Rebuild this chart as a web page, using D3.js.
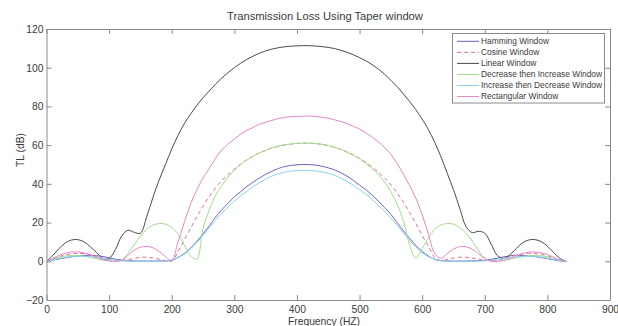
<!DOCTYPE html>
<html>
<head>
<meta charset="utf-8">
<script src="https://cdn.jsdelivr.net/npm/d3@7"></script>
<style>
  html, body { margin: 0; padding: 0; background: #fff; }
  svg { display: block; font-family: "Liberation Sans", Arial, sans-serif; }
</style>
</head>
<body>
<script>
// ---------- DATA ----------
const freq = [0,10,20,30,40,50,60,70,80,90,100,110,120,130,140,150,160,170,180,190,
  200,210,220,230,240,250,260,270,280,290,300,310,320,330,340,350,360,370,380,390,
  400,410,420,430,440,450,460,470,480,490,500,510,520,530,540,550,560,570,580,590,
  600,610,620,630,640,650,660,670,680,690,700,710,720,730,740,750,760,770,780,790,
  800,810,820,830];

const hamming = [0,0.6,1.2,1.8,2.3,2.7,3,3.1,2.9,2.5,1.8,1.1,0.6,0.3,0.2,0.1,0.1,0.1,0.2,0.2,
  0.5,2,4,6.8,10.2,14.2,18.3,22.8,26.6,30,33.3,35.9,38.6,40.9,43,44.9,46.5,47.9,48.9,49.5,
  49.85,50,49.95,49.7,49.1,48.3,47.2,45.8,44,41.8,39.3,37,34.3,31.1,27.7,24.2,20,15.8,11.8,8.2,
  5.1,2.7,1,0.3,0.2,0.1,0.1,0.1,0.2,0.3,0.5,1,1.6,2.3,2.8,3.1,3,2.8,2.4,1.9,
  1.4,0.8,0.2,0];

const cosine = [0,1.2,2.4,3.3,3.9,4.1,3.9,3.3,2.5,1.6,0.9,0.5,0.4,0.8,1.5,2,2.1,1.8,1.1,0.4,
  0,5,11,17,23,28.5,33.5,38,41.7,44.8,47.6,50.2,52.4,54.3,56,57.3,58.5,59.3,60,60.5,
  60.85,61,61,60.8,60.4,59.8,58.9,57.8,56.5,55,53.2,51.1,48.6,46,43,39.5,35.3,30.5,25.2,19.4,
  13.4,7.7,2,0.3,0.9,1.7,2.1,2.1,1.7,1,0.5,0.4,0.7,1.3,2.2,3.1,3.8,4.1,4,3.6,
  2.8,1.7,0.5,0];

const linear = [0,3,6.5,9.5,11,11.2,10,7.5,4.5,1.5,1.5,6,13,16,15,14.5,23,33,42,50,
  58,65,71,76,80.5,84.5,88,91.5,94.7,97.5,100,102.3,104.3,106,107.5,108.7,109.6,110.3,110.8,111.1,
  111.3,111.4,111.4,111.2,110.9,110.5,109.9,109,108,106.7,105.2,103.6,101.6,99.3,96.6,93.5,90.2,86.5,82.5,78.3,
  73.5,68,61.5,54,45.5,37,27.5,18,14.8,15.5,14.5,9,3,1.5,3.3,6.5,9.5,11,11.2,10.2,
  7.8,4.5,1.5,0];

const decInc = [0,1,2,2.7,3,3,2.6,2,1.3,0.6,0.2,0,0.5,4,8.5,13,16.5,18.7,19.5,19.2,
  17.5,14,8.5,3,1,17,26.5,34,39.2,43.5,47,50,52.3,54.3,56,57.4,58.6,59.5,60.2,60.6,
  60.9,61,61,60.8,60.4,59.8,58.9,57.8,56.4,54.8,53,50.6,48,44.8,41,36,29.5,21,8.5,1.5,
  6.5,12,16.5,18.8,19.5,19.2,17.5,14.5,10.5,5.5,1.5,0,0,0.4,1,1.8,2.4,2.9,3,2.8,
  2.3,1.4,0.4,0];

const incDec = [0,0.7,1.4,2,2.4,2.6,2.6,2.4,2,1.5,1,0.6,0.3,0.1,0,0,0,0,0,0.1,
  0.6,1.9,3.7,6.4,9.6,13.3,17.3,21.1,24.8,28,31,33.8,36.2,38.6,40.6,42.5,44,45.2,46,46.6,
  46.9,47,47,46.7,46.2,45.5,44.4,43,41.3,39.3,37.1,34.7,32,29,25.8,22.4,18.6,14.6,10.8,7.4,
  4.5,2.4,1.1,0.3,0,0,0,0,0,0.1,0.2,0.5,0.9,1.4,1.9,2.3,2.5,2.6,2.5,2.1,
  1.6,1,0.3,0];

const rectangular = [0,1.5,3,4.2,4.8,4.8,4.3,3.3,2,0.8,0.2,0,0.5,3,5.8,7.3,7.7,7,5,2.5,
  0.2,10,20,29.5,36.8,43,48,53.3,57.5,60.6,63.2,65.6,67.6,69.2,70.8,71.8,72.8,73.7,74.3,74.7,
  74.9,75,75,74.8,74.4,73.9,73.1,72.2,71.1,69.8,68.3,66.4,64.2,61.7,58.8,55.2,50.5,45,39,32.5,
  24,14,4,1.5,4,6.3,7.6,7.5,6.3,4,1.5,0,0,0.5,1.5,2.9,4,4.7,4.8,4.4,
  3.5,2.1,0.6,0];

const seriesNames = ["Hamming Window","Cosine Window","Linear Window",
  "Decrease then Increase Window","Increase then Decrease Window","Rectangular Window"];
const seriesValues = [hamming, cosine, linear, decInc, incDec, rectangular];

const xTicks = [0,100,200,300,400,500,600,700,800,900];
const yTicks = [-20,0,20,40,60,80,100,120];

const titleText = "Transmission Loss Using Taper window";
const xLabel = "Frequency (HZ)";
const yLabel = "TL (dB)";

// ---------- STYLE ----------
const colors = ["#6e62c8","#e0708c","#4a4a4a","#a0dc8c","#88d4f0","#ea84c8"];
const dashes = [null,"4,3",null,null,null,null];

// ---------- CHART ----------
const W = 618, H = 326;
const mL = 46.5, mR = 610, mT = 29, mB = 300;
const svg = d3.select("body").append("svg").attr("width", W).attr("height", H);

const x = d3.scaleLinear().domain([0,900]).range([mL, mR]);
const y = d3.scaleLinear().domain([-20,120]).range([mB, mT]);

const axisColor = "#8a8a8a";
const textColor = "#3a3a3a";
const fs = 10.3;

function styleAxis(g) {
  g.select(".domain").attr("stroke", axisColor);
  g.selectAll(".tick line").attr("stroke", axisColor);
  g.selectAll(".tick text").attr("fill", textColor).attr("font-size", fs)
    .attr("font-family", "'Liberation Sans', Arial, sans-serif");
}

svg.append("g").attr("transform", `translate(0,${mB})`)
  .call(d3.axisBottom(x).tickValues(xTicks).tickSize(-5).tickSizeOuter(0).tickPadding(5.5).tickFormat(d3.format("d")))
  .call(styleAxis);
svg.append("g").attr("transform", `translate(0,${mT})`)
  .call(d3.axisTop(x).tickValues(xTicks).tickSize(-5).tickSizeOuter(0).tickFormat(""))
  .call(styleAxis);
svg.append("g").attr("transform", `translate(${mL},0)`)
  .call(d3.axisLeft(y).tickValues(yTicks).tickSize(-5).tickSizeOuter(0).tickPadding(3).tickFormat(d3.format("d")))
  .call(styleAxis);
svg.append("g").attr("transform", `translate(${mR},0)`)
  .call(d3.axisRight(y).tickValues(yTicks).tickSize(-5).tickSizeOuter(0).tickFormat(""))
  .call(styleAxis);

// curves
const line = d3.line()
  .x((d, i) => x(freq[i]))
  .y(d => y(d))
  .curve(d3.curveCatmullRom.alpha(0.5));

seriesValues.forEach((vals, k) => {
  svg.append("path")
    .datum(vals)
    .attr("d", line)
    .attr("fill", "none")
    .attr("stroke", colors[k])
    .attr("stroke-width", 1)
    .attr("stroke-dasharray", dashes[k]);
});

// title & labels
svg.append("text").attr("x", 325).attr("y", 20).attr("text-anchor", "middle")
  .attr("font-size", 11.2).attr("fill", textColor).text(titleText);
svg.append("text").attr("x", 324).attr("y", 325).attr("text-anchor", "middle")
  .attr("font-size", fs).attr("fill", textColor).text(xLabel);
svg.append("text").attr("transform", "translate(24,150) rotate(-90)").attr("text-anchor", "middle")
  .attr("font-size", fs).attr("fill", textColor).text(yLabel);

// legend
const lg = svg.append("g");
lg.append("rect").attr("x", 452.5).attr("y", 33.5).attr("width", 152).attr("height", 69.5)
  .attr("fill", "#fff").attr("stroke", axisColor);
seriesNames.forEach((name, k) => {
  const yy = 41.3 + k * 11.05;
  lg.append("line").attr("x1", 457).attr("x2", 479).attr("y1", yy).attr("y2", yy)
    .attr("stroke", colors[k]).attr("stroke-width", 1).attr("stroke-dasharray", dashes[k]);
  lg.append("text").attr("x", 481).attr("y", yy).attr("dy", "0.35em")
    .attr("font-size", 8.4).attr("fill", textColor).text(name);
});
</script>
</body>
</html>
